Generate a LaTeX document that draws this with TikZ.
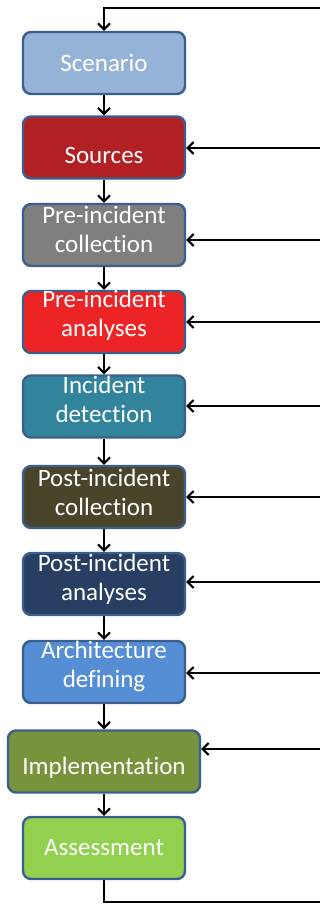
\documentclass[tikz,border=0pt]{standalone}
\usepackage{fontspec}
\setmainfont[Ligatures=NoCommon]{Carlito}
\usetikzlibrary{arrows.meta}
\definecolor{bordc}{HTML}{3A5F8E}
\definecolor{cScen}{HTML}{95B3D7}
\definecolor{cSrc}{HTML}{B22024}
\definecolor{cPIC}{HTML}{7F7F7F}
\definecolor{cPIA}{HTML}{EC2426}
\definecolor{cID}{HTML}{31849B}
\definecolor{cPoC}{HTML}{4A452A}
\definecolor{cPoA}{HTML}{283E62}
\definecolor{cAD}{HTML}{558ED5}
\definecolor{cImp}{HTML}{77933C}
\definecolor{cAss}{HTML}{92D050}
\tikzset{
  boxst/.style={draw=bordc, line width=2.4pt, rounded corners=8pt, minimum width=162pt, minimum height=62pt, inner sep=0pt},
  txt/.style={text=white, align=center, font=\fontsize{25}{29}\selectfont, inner sep=0pt},
  conn/.style={line width=2pt, -{Straight Barb[length=6pt,width=12pt,line width=2pt]}},
  plain/.style={line width=2pt}
}
\begin{document}
\begin{tikzpicture}[x=1pt,y=-1pt]
\useasboundingbox (0,0) rectangle (320,904);
% boxes
\node[boxst, fill=cScen] (b1) at (104,63) {};
\node[boxst, fill=cSrc] (b2) at (104,147.5) {};
\node[boxst, fill=cPIC] (b3) at (104,235) {};
\node[boxst, fill=cPIA] (b4) at (104,322) {};
\node[boxst, fill=cID] (b5) at (104,406.5) {};
\node[boxst, fill=cPoC] (b6) at (104,497) {};
\node[boxst, fill=cPoA] (b7) at (104,584) {};
\node[boxst, fill=cAD] (b8) at (104,672) {};
\node[boxst, fill=cImp, minimum width=192pt] (b9) at (104,761.5) {};
\node[boxst, fill=cAss] (b10) at (104,848) {};
% texts
\node[txt] (t1) at (104,63) {Scenario};
\node[txt] (t2) at (104,155) {Sources};
\node[txt] (t3) at (104,229) {Pre-incident\\collection};
\node[txt] (t4) at (104,315) {Pre-incident\\analyses};
\node[txt] (t5) at (104,399) {Incident\\detection};
\node[txt] (t6) at (104,492) {Post-incident\\collection};
\node[txt] (t7) at (104,579) {Post-incident\\analyses};
\node[txt] (t8) at (104,666) {Architecture\\defining};
\node[txt] (t9) at (104,768) {Implementation};
\node[txt] (t10) at (104,848) {Assessment};
% vertical arrows
\foreach \a/\b in {b1/b2,b2/b3,b3/b4,b4/b5,b5/b6,b6/b7,b7/b8,b8/b9,b9/b10}
  \draw[conn] (\a.south) -- (\b.north);
% feedback loop
\coordinate (topR) at (321,8);
\coordinate (topL) at (104,8);
\coordinate (botR) at (321,902);
\coordinate (botL) at (104,902);
\draw[conn] (topR) -- (topL) -- (b1.north);
\draw[plain] (b10.south) -- (botL) -- (botR);
\foreach \n/\y in {b2/148,b3/240,b4/322,b5/406,b6/497,b7/582,b8/673,b9/749}{
  \coordinate (r\n) at (321,\y);
  \draw[conn] (r\n) -- (\n.east |- r\n);
}
\end{tikzpicture}
\end{document}
